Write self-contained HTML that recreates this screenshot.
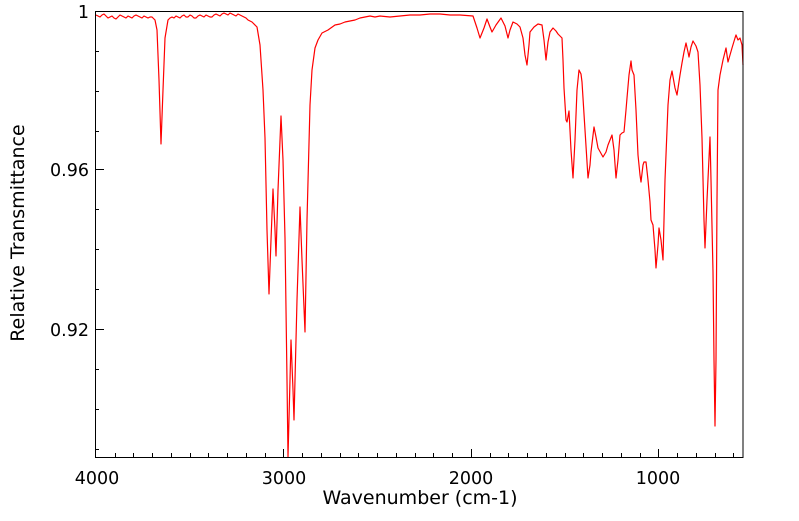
<!DOCTYPE html>
<html><head><style>
body{margin:0;background:#fff;}
svg text{font-family:"DejaVu Sans","Liberation Sans",sans-serif;fill:#000;}
</style></head><body>
<svg width="799" height="516" xmlns="http://www.w3.org/2000/svg">
<polyline fill="none" stroke="#ff0000" stroke-width="1.2" stroke-linejoin="round" points="
96,15 98,16 100,17 102,15 104,14 106,16 108,18 110,17 112,16 114,18 116,19 118,17 120,15 122,16 124,17 126,18 128,16 130,17 132,18 134,16 136,15 138,16 140,17 142,18 144,16 146,17 148,18 150,17 152,17 155,20 157,30 159,80 161,144 163,90 165,38 168,20 170,18 172,17 174,18 176,16 178,17 180,18 182,16 184,15 186,17 188,17 190,15 192,16 194,18 196,18 198,16 200,15 202,16 204,17 206,15 208,16 210,17 212,17 214,15 216,14 218,15 220,16 222,14 224,13 226,14 228,15 230,13 232,14 234,15 236,16 238,14 240,15 242,16 244,17 246,18 248,20 252,22 257,27 260,45 263,90 265,138 267,230 269,294 271,240 273,189 275,230 276,256 278,190 281,116 283,160 285,238 287,380 288,457 290,380 291,340 293,390 294,420 297,300 300,207 302,260 305,332 307,220 310,105 312,70 315,48 318,40 322,33 328,30 335,25 340,24 345,22 350,21 355,20 360,18 365,17 370,16 375,17 380,16 390,17 400,16 410,15 420,15 430,14 440,14 450,15 460,15 473,16 477,28 480,38 484,28 487,19 490,27 492,32 496,25 501,18 505,26 508,38 510,30 513,22 517,24 520,27 523,38 525,55 527,65 529,45 530,32 534,27 538,24 542,25 544,40 546,60 548,42 550,32 553,28 556,31 558,34 562,38 563,60 564,88 566,120 567,122 569,111 571,150 573,178 575,140 577,90 579,70 581,74 582,82 585,130 588,178 590,165 591,152 594,127 596,137 598,148 603,157 606,152 608,145 610,140 612,135 614,150 616,178 618,160 620,135 622,133 624,132 626,110 627,98 629,75 631,61 632,70 634,75 636,110 638,155 640,175 641,182 643,165 644,162 646,162 648,180 650,202 651,220 653,225 655,250 656,268 658,245 659,228 661,240 663,260 665,180 668,105 670,80 672,71 675,88 677,95 680,75 682,63 684,52 686,43 688,52 689,57 691,47 693,41 696,46 698,52 700,85 702,138 704,220 705,248 707,200 710,137 711,180 713,272 714,360 715,426 716,360 717,200 718,90 720,75 723,60 726,48 728,62 730,55 732,48 735,38 736,35 738,40 740,38 742,45 743,65"/>
<rect x="95.5" y="11.5" width="647.5" height="446" fill="none" stroke="#000" stroke-width="1"/>
<g stroke="#000" stroke-width="1">
<line x1="95" y1="51.5" x2="99" y2="51.5"/><line x1="95" y1="91.5" x2="99" y2="91.5"/><line x1="95" y1="131.5" x2="99" y2="131.5"/>
<line x1="95" y1="169.5" x2="104" y2="169.5"/>
<line x1="95" y1="209.5" x2="99" y2="209.5"/><line x1="95" y1="249.5" x2="99" y2="249.5"/><line x1="95" y1="289.5" x2="99" y2="289.5"/>
<line x1="95" y1="329.5" x2="104" y2="329.5"/>
<line x1="95" y1="369.5" x2="99" y2="369.5"/><line x1="95" y1="409.5" x2="99" y2="409.5"/><line x1="95" y1="449.5" x2="99" y2="449.5"/>
</g>
<g stroke="#000" stroke-width="1" id="xt"></g>
<text x="89" y="18" font-size="17.5" text-anchor="end">1</text>
<text x="89" y="176" font-size="17.5" text-anchor="end">0.96</text>
<text x="89" y="336" font-size="17.5" text-anchor="end">0.92</text>
<text x="97" y="484" font-size="17.5" text-anchor="middle">4000</text>
<text x="284" y="484" font-size="17.5" text-anchor="middle">3000</text>
<text x="471" y="484" font-size="17.5" text-anchor="middle">2000</text>
<text x="658" y="484" font-size="17.5" text-anchor="middle">1000</text>
<text x="420" y="504" font-size="19" text-anchor="middle">Wavenumber (cm-1)</text>
<text transform="translate(24,233) rotate(-90)" font-size="19" text-anchor="middle">Relative Transmittance</text>
<script>
var g=document.getElementById('xt');
for(var w=3900;w>=600;w-=100){var x=95.8+(4000-w)*0.1875;var l=document.createElementNS('http://www.w3.org/2000/svg','line');
var len=(w%1000==0)?8:4;x=Math.round(x)+0.5;l.setAttribute('x1',x);l.setAttribute('x2',x);l.setAttribute('y1',457);l.setAttribute('y2',457-len);g.appendChild(l);}
</script>
</svg>
</body></html>
